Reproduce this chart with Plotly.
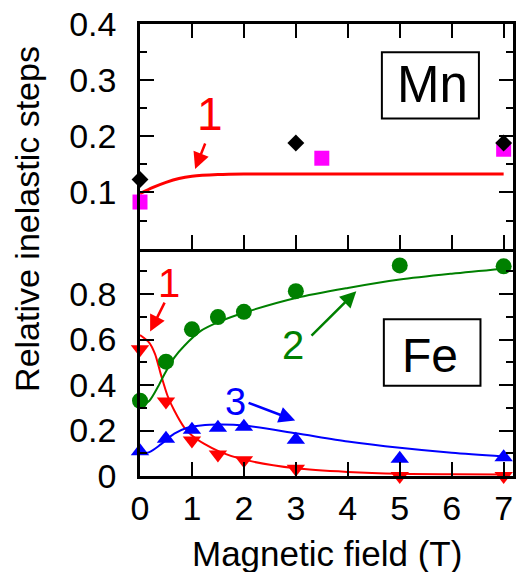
import plotly.graph_objects as go

# ---------------- data ----------------
# Mn panel
mn_diamond_x = [0, 3, 7]
mn_diamond_y = [0.123, 0.188, 0.188]
mn_square_x = [0, 3.5, 7]
mn_square_y = [0.083, 0.161, 0.177]
mn_fit_x = [0, 0.25, 0.5, 0.75, 1, 1.5, 2, 3, 5, 7]
mn_fit_y = [0.098, 0.109, 0.118, 0.125, 0.129, 0.132, 0.133, 0.133, 0.133, 0.133]

# Fe panel
fe_x = [0, 0.5, 1, 1.5, 2, 3, 5, 7]
fe_green = [0.331, 0.503, 0.645, 0.699, 0.722, 0.813, 0.926, 0.922]
fe_red = [0.557, 0.328, 0.156, 0.094, 0.069, 0.032, 0.0, 0.0]
fe_blue = [0.109, 0.164, 0.203, 0.212, 0.217, 0.159, 0.076, 0.083]

fe_red_fit_x = [0, 0.18, 0.29, 0.40, 0.53, 0.66, 0.85, 1.0, 1.23, 1.55, 2.0, 3.0, 4.0, 5.0, 6.0, 7.0]
fe_red_fit_y = [0.620, 0.586, 0.536, 0.448, 0.353, 0.288, 0.214, 0.178, 0.142, 0.105, 0.072, 0.034, 0.018, 0.010, 0.008, 0.007]
fe_green_fit_x = [0, 0.18, 0.34, 0.47, 0.66, 0.85, 1.17, 1.55, 2.0, 3.0, 4.0, 5.0, 6.0, 7.0]
fe_green_fit_y = [0.305, 0.331, 0.390, 0.448, 0.521, 0.572, 0.638, 0.681, 0.718, 0.783, 0.827, 0.864, 0.890, 0.912]
fe_blue_fit_x = [0, 0.18, 0.40, 0.66, 0.91, 1.17, 1.55, 2.0, 3.0, 4.0, 5.0, 6.0, 7.0]
fe_blue_fit_y = [0.098, 0.105, 0.139, 0.186, 0.212, 0.222, 0.226, 0.222, 0.188, 0.152, 0.124, 0.102, 0.086]

x_ticks = [0, 1, 2, 3, 4, 5, 6, 7]
mn_yticks = [0.1, 0.2, 0.3, 0.4]
mn_yminor = [0.05, 0.15, 0.25, 0.35]
fe_yticks = [0, 0.2, 0.4, 0.6, 0.8]
fe_yminor = [0.1, 0.3, 0.5, 0.7, 0.9]

RED = "#ff0000"
GREEN = "#008000"
BLUE = "#0000ff"
MAG = "#ff00ff"
FONT = "Liberation Sans"

fig = go.Figure()

# Mn panel (x2/y2)
fig.add_trace(go.Scatter(x=mn_fit_x, y=mn_fit_y, mode="lines", line=dict(color=RED, width=3, shape="spline"),
                         xaxis="x2", yaxis="y2", showlegend=False))
fig.add_trace(go.Scatter(x=mn_square_x, y=mn_square_y, mode="markers",
                         marker=dict(symbol="square", size=15, color=MAG),
                         xaxis="x2", yaxis="y2", cliponaxis=False, showlegend=False))
fig.add_trace(go.Scatter(x=mn_diamond_x, y=mn_diamond_y, mode="markers",
                         marker=dict(symbol="diamond", size=13, color="black"),
                         xaxis="x2", yaxis="y2", cliponaxis=False, showlegend=False))

# Fe panel (x/y)
for fx, fy, c in [(fe_red_fit_x, fe_red_fit_y, RED), (fe_green_fit_x, fe_green_fit_y, GREEN),
                  (fe_blue_fit_x, fe_blue_fit_y, BLUE)]:
    fig.add_trace(go.Scatter(x=fx, y=fy, mode="lines", line=dict(color=c, width=2, shape="spline", smoothing=0.8),
                             showlegend=False))
fig.add_trace(go.Scatter(x=fe_x, y=fe_green, mode="markers", marker=dict(symbol="circle", size=16, color=GREEN),
                         cliponaxis=False, showlegend=False))
fig.add_trace(go.Scatter(x=fe_x, y=fe_red, mode="markers", marker=dict(symbol="triangle-down", size=16, color=RED),
                         cliponaxis=False, showlegend=False))
fig.add_trace(go.Scatter(x=fe_x, y=fe_blue, mode="markers", marker=dict(symbol="triangle-up", size=16, color=BLUE),
                         cliponaxis=False, showlegend=False))

tickfont = dict(family=FONT, size=34, color="black")
common_x = dict(range=[0, 7.18], tickmode="array", tickvals=x_ticks, ticks="inside", ticklen=14, tickwidth=2,
                tickcolor="black", showline=True, linewidth=2.5, linecolor="black", showgrid=False, zeroline=False)
common_y = dict(ticks="inside", ticklen=14, tickwidth=2, tickcolor="black", showline=True, linewidth=2.5,
                linecolor="black", showgrid=False, zeroline=False, mirror="ticks", tickfont=tickfont,
                ticklabelstandoff=14, tickmode="array")

fig.update_layout(
    width=519, height=572,
    margin=dict(l=140, r=3, t=24, b=96),
    plot_bgcolor="white", paper_bgcolor="white",
    xaxis=dict(**common_x, anchor="y", mirror=False, tickfont=tickfont, ticklabelstandoff=0,
               ticktext=[str(v) for v in x_ticks]),
    xaxis2=dict(**common_x, anchor="y2", matches="x", mirror="ticks", showticklabels=False),
    yaxis=dict(**common_y, domain=[0, 0.503], range=[0, 1.0], anchor="x", tickvals=fe_yticks,
               ticktext=["0", "0.2", "0.4", "0.6", "0.8"],
               minor=dict(tickmode="array", tickvals=fe_yminor, ticks="inside", ticklen=7, tickwidth=2,
                          tickcolor="black")),
    yaxis2=dict(**common_y, domain=[0.503, 1], range=[0, 0.4], anchor="x2", tickvals=mn_yticks,
                ticktext=["0.1", "0.2", "0.3", "0.4"],
                minor=dict(tickmode="array", tickvals=mn_yminor, ticks="inside", ticklen=7, tickwidth=2,
                           tickcolor="black")),
)

# boxes
fig.add_shape(type="rect", xref="x2", yref="y2", x0=4.656, x1=6.524, y0=0.2316, y1=0.3495,
              line=dict(color="black", width=2), fillcolor="white", layer="below")
fig.add_shape(type="rect", xref="x", yref="y", x0=4.694, x1=6.554, y0=0.397, y1=0.689,
              line=dict(color="black", width=2), fillcolor="white", layer="below")

ann = []
ann.append(dict(x=5.637, y=0.293, xref="x2", yref="y2", text="Mn", showarrow=False,
                font=dict(family=FONT, size=51, color="black")))
ann.append(dict(x=5.59, y=0.530, xref="x", yref="y", text="Fe", showarrow=False,
                font=dict(family=FONT, size=48, color="black")))
# number labels
ann.append(dict(x=1.35, y=0.24, xref="x2", yref="y2", text="1", showarrow=False,
                font=dict(family=FONT, size=46, color=RED)))
ann.append(dict(x=0.564, y=0.85, xref="x", yref="y", text="1", showarrow=False,
                font=dict(family=FONT, size=40, color=RED)))
ann.append(dict(x=2.945, y=0.575, xref="x", yref="y", text="2", showarrow=False,
                font=dict(family=FONT, size=40, color=GREEN)))
ann.append(dict(x=1.84, y=0.325, xref="x", yref="y", text="3", showarrow=False,
                font=dict(family=FONT, size=38, color=BLUE)))
# arrows
for (hx, hy, tx, ty, xr, yr, c) in [
    (1.061, 0.142, 1.266, 0.190, "x2", "y2", RED),
    (0.195, 0.635, 0.488, 0.769, "x", "y", RED),
    (4.164, 0.813, 3.273, 0.611, "x", "y", GREEN),
    (2.987, 0.244, 2.061, 0.324, "x", "y", BLUE),
]:
    ann.append(dict(x=hx, y=hy, ax=tx, ay=ty, xref=xr, yref=yr, axref=xr, ayref=yr, text="",
                    showarrow=True, arrowhead=2, arrowsize=1.3, arrowwidth=2.5, arrowcolor=c, standoff=0))

# axis titles
ann.append(dict(x=(26 - 140) / 376, y=(476 - 219) / 452, xref="paper", yref="paper", text="Relative inelastic steps",
                textangle=-90, xanchor="center", yanchor="middle", showarrow=False,
                font=dict(family=FONT, size=34, color="black")))
ann.append(dict(x=(328 - 140) / 376, y=(476 - 553) / 452, xref="paper", yref="paper", text="Magnetic field (T)",
                xanchor="center", yanchor="middle", showarrow=False, font=dict(family=FONT, size=35, color="black")))
fig.update_layout(annotations=ann)

fig.write_html("out.html", config={"displayModeBar": False}, post_script="document.body.style.margin='0';")
